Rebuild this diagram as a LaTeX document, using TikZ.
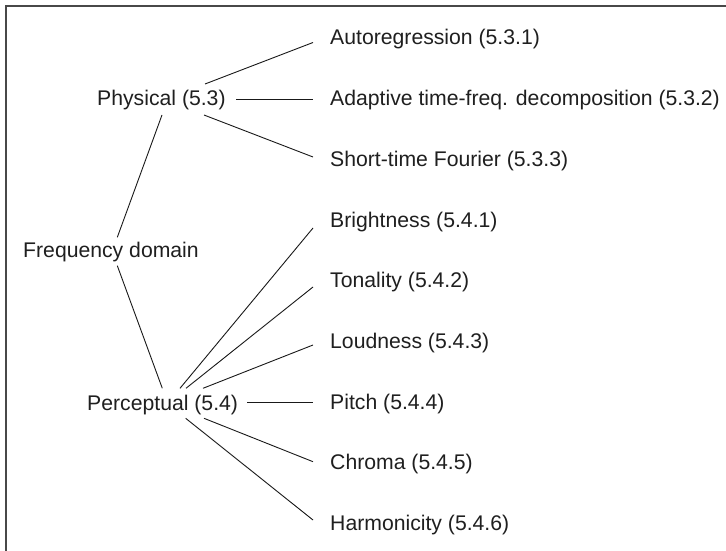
\documentclass[tikz,border=0pt]{standalone}
\usepackage{fontspec}
\setmainfont{Liberation Sans}
\begin{document}
\begin{tikzpicture}[x=1pt,y=-1pt,
  label/.style={anchor=base west,inner sep=0pt,text=black!88,
    font=\fontsize{21.2}{25}\selectfont},
  link/.style={draw=black!90,line width=0.9pt},
  frame/.style={draw={rgb,255:red,72;green,72;blue,72},line width=2pt}]
  \useasboundingbox[fill=white] (0,0) rectangle (726,551);
  % open frame: top and left edges only
  \draw[frame] (726,6.5) -- (5.7,6.5) -- (5.7,551);

  % root and category labels
  \node[label] (phys) at (97,106)   {Physical (5.3)};
  \node[label] (freq) at (23,257.5) {Frequency domain};
  \node[label] (perc) at (87,410)   {Perceptual (5.4)};

  % leaf labels
  \node[label] (auto)   at (330,45)    {Autoregression (5.3.1)};
  \node[label] (adap)   at (330,105.7) {Adaptive time-freq. decomposition (5.3.2)};
  \node[label] (stft)   at (330,166.4) {Short-time Fourier (5.3.3)};
  \node[label] (bright) at (330,227.1) {Brightness (5.4.1)};
  \node[label] (tonal)  at (330,287.8) {Tonality (5.4.2)};
  \node[label] (loud)   at (330,348.5) {Loudness (5.4.3)};
  \node[label] (pitch)  at (330,409.2) {Pitch (5.4.4)};
  \node[label] (chroma) at (330,469.9) {Chroma (5.4.5)};
  \node[label] (harm)   at (330,530.6) {Harmonicity (5.4.6)};

  % tree edges
  \draw[link] ([shift={(94.3,-20.2)}]freq.base west) -- ([shift={(65,9)}]phys.base west);
  \draw[link] ([shift={(94.3,8.2)}]freq.base west)   -- ([shift={(75.3,-21.7)}]perc.base west);

  \draw[link] ([shift={(108,-22)}]phys.base west) -- ([shift={(-17,-2.5)}]auto.base west);
  \draw[link] ([shift={(139,-7)}]phys.base west)  -- ([shift={(-17,-6.7)}]adap.base west);
  \draw[link] ([shift={(107,9)}]phys.base west)   -- ([shift={(-17,-9.4)}]stft.base west);

  \draw[link] ([shift={(93,-21.7)}]perc.base west)  -- ([shift={(-17,0.9)}]bright.base west);
  \draw[link] ([shift={(99,-21.7)}]perc.base west)  -- ([shift={(-17,-0.8)}]tonal.base west);
  \draw[link] ([shift={(116,-21.7)}]perc.base west) -- ([shift={(-17,-3.5)}]loud.base west);
  \draw[link] ([shift={(160,-7.5)}]perc.base west)  -- ([shift={(-17,-6.7)}]pitch.base west);
  \draw[link] ([shift={(117,8.3)}]perc.base west)   -- ([shift={(-17,-8.2)}]chroma.base west);
  \draw[link] ([shift={(98.7,8.3)}]perc.base west)  -- ([shift={(-17,-10.6)}]harm.base west);
\end{tikzpicture}
\end{document}
